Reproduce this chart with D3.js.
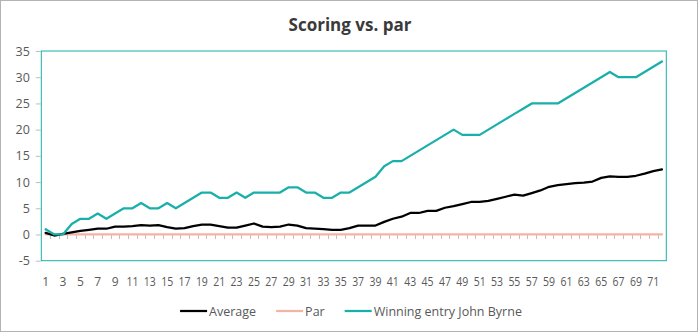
<!DOCTYPE html>
<html>
<head>
<meta charset="utf-8">
<script src="https://cdn.jsdelivr.net/npm/d3@7"></script>
<style>
  html, body { margin: 0; padding: 0; background: #fff; }
  svg { display: block; font-family: "Open Sans", "Noto Sans", sans-serif; }
</style>
</head>
<body>
<svg id="chart" width="699" height="333"></svg>
<script>
const title = "Scoring vs. par";
const categories = d3.range(1, 73);
const averageValues = [0.3, -0.2, 0.1, 0.4, 0.7, 0.9, 1.1, 1.1, 1.5, 1.5,
  1.6, 1.8, 1.7, 1.8, 1.4, 1.1, 1.2, 1.6, 1.9, 1.9,
  1.6, 1.3, 1.3, 1.7, 2.1, 1.5, 1.4, 1.5, 1.9, 1.7,
  1.2, 1.1, 1.0, 0.9, 0.9, 1.2, 1.7, 1.7, 1.7, 2.4,
  3.0, 3.4, 4.1, 4.1, 4.5, 4.5, 5.1, 5.4, 5.8, 6.2,
  6.2, 6.4, 6.8, 7.2, 7.6, 7.4, 7.9, 8.4, 9.1, 9.4,
  9.6, 9.8, 9.9, 10.1, 10.8, 11.1, 11.0, 11.0, 11.2, 11.6,
  12.1, 12.4];
const parValues = categories.map(() => 0);
const winnerValues = [1, 0, 0, 2, 3, 3, 4, 3, 4, 5,
  5, 6, 5, 5, 6, 5, 6, 7, 8, 8,
  7, 7, 8, 7, 8, 8, 8, 8, 9, 9,
  8, 8, 7, 7, 8, 8, 9, 10, 11, 13,
  14, 14, 15, 16, 17, 18, 19, 20, 19, 19,
  19, 20, 21, 22, 23, 24, 25, 25, 25, 25,
  26, 27, 28, 29, 30, 31, 30, 30, 30, 31,
  32, 33];
const yTicks = [-5, 0, 5, 10, 15, 20, 25, 30, 35];
const xTickLabels = categories.filter(c => c % 2 === 1);
const seriesNames = ["Average", "Par", "Winning entry John Byrne"];
const seriesColors = ["#000000", "#F4B4A4", "#19AFAA"];

const svg = d3.select("#chart");
const plot = { left: 41.3, right: 666.3, top: 51, bottom: 260.7 };

// outer frame
svg.append("rect").attr("x", 0.5).attr("y", 0.5).attr("width", 697).attr("height", 331)
  .attr("fill", "#fff").attr("stroke", "#b3b3b3").attr("stroke-width", 1);

const x = d3.scaleBand().domain(categories).range([plot.left, plot.right]).padding(0);
const y = d3.scaleLinear().domain([-5, 35]).range([plot.bottom, plot.top]);
const cx = c => x(c) + x.bandwidth() / 2;

// title
svg.append("text").attr("x", 350).attr("y", 31).attr("text-anchor", "middle")
  .attr("font-size", 17).attr("font-weight", 700).attr("fill", "#3a3a3a").text(title);

// plot border
svg.append("rect").attr("x", plot.left).attr("y", plot.top)
  .attr("width", plot.right - plot.left).attr("height", plot.bottom - plot.top)
  .attr("fill", "none").attr("stroke", seriesColors[2]).attr("stroke-width", 1);

// y axis
const yAxis = d3.axisLeft(y).tickValues(yTicks).tickSize(5).tickPadding(6).tickFormat(d => String(d));
const gy = svg.append("g").attr("transform", `translate(${plot.left - 0.5},0)`).call(yAxis);
gy.select(".domain").remove();
gy.selectAll(".tick line").attr("stroke", "#bfbfbf");
gy.selectAll(".tick text").attr("font-size", 12.5).attr("fill", "#595959")
  .attr("font-family", "'Open Sans', sans-serif");

// x axis at zero: ticks at category boundaries
const boundaries = categories.slice(1).map(c => x(c));
svg.append("g").selectAll("line").data(boundaries).join("line")
  .attr("x1", d => Math.round(d) + 0.5).attr("x2", d => Math.round(d) + 0.5)
  .attr("y1", y(0)).attr("y2", y(0) + 4.5)
  .attr("stroke", "#bfbfbf").attr("stroke-width", 1);

// x labels
svg.append("g").selectAll("text").data(xTickLabels).join("text")
  .attr("x", d => cx(d)).attr("y", 286).attr("text-anchor", "middle")
  .attr("font-size", 12).attr("textLength", d => d >= 10 ? 12 : null)
  .attr("lengthAdjust", "spacingAndGlyphs")
  .attr("fill", "#595959").text(d => d);

// lines
const line = d3.line().x((d, i) => cx(categories[i])).y(d => y(d));
const allSeries = [averageValues, parValues, winnerValues];
const order = [1, 0, 2];
order.forEach(k => {
  svg.append("path").datum(allSeries[k]).attr("d", line)
    .attr("fill", "none").attr("stroke", seriesColors[k])
    .attr("stroke-width", 2.25).attr("stroke-linejoin", "round").attr("stroke-linecap", "round");
});

// legend
const legend = svg.append("g");
const items = [];
seriesNames.forEach((name, i) => {
  const g = legend.append("g");
  g.append("line").attr("x1", 0).attr("x2", 27).attr("y1", 0).attr("y2", 0)
    .attr("stroke", seriesColors[i]).attr("stroke-width", 2.25);
  const t = g.append("text").attr("x", 29).attr("y", 4.5).attr("font-size", 12.5)
    .attr("fill", "#595959").text(name);
  const w = 29 + t.node().getComputedTextLength();
  items.push({ g, w });
});
const gap = 20;
const total = d3.sum(items, d => d.w) + gap * (items.length - 1);
let start = 351 - total / 2;
items.forEach(it => {
  it.g.attr("transform", `translate(${start},311)`);
  start += it.w + gap;
});
</script>
</body>
</html>
